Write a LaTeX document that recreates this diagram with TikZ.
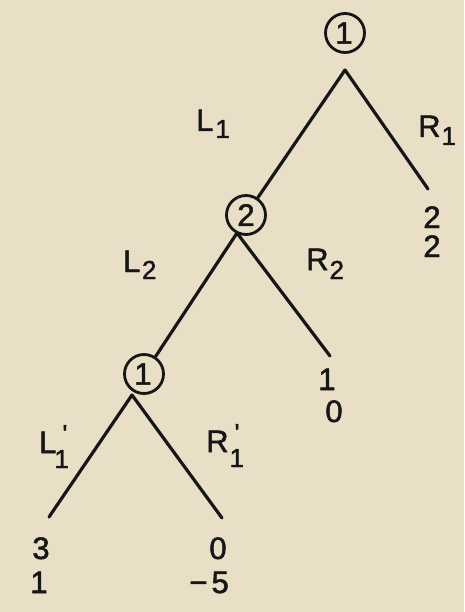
\documentclass[tikz,border=0pt]{standalone}
\usepackage{fontspec}
\setmainfont{Liberation Sans}[FakeBold=1.6]
\definecolor{bg}{RGB}{233,223,199}
\definecolor{ink}{RGB}{22,22,22}
\newcommand{\lsub}[2][7]{\raisebox{-#1pt}{\fontsize{26}{26}\selectfont #2}}
\newcommand{\lprime}[1][6]{\rlap{\kern#1pt\raisebox{10pt}{\fontsize{26}{26}\selectfont\textquotesingle}}}
\begin{document}
\begin{tikzpicture}[x=1pt,y=1pt,
  every node/.style={inner sep=0pt, font=\fontsize{31}{31}\selectfont, text=ink},
  branch/.style={draw=ink, line width=3.2pt, line cap=round, line join=round},
  decision/.style={circle, draw=ink, line width=2.8pt, minimum size=39pt}]
\fill[bg] (0,0) rectangle (464,-612);
\useasboundingbox (0,0) rectangle (464,-612);
% decision nodes
\node[decision] (n1) at (345,-33) {\kern-2pt1};
\node[decision] (n2) at (246,-215) {2};
\node[decision] (n3) at (144,-374) {\kern-2pt1};
% branch points and leaves
\coordinate (a1) at (345,-70);
\coordinate (a2) at (237,-233);
\coordinate (a3) at (132,-395);
\coordinate (t1) at (428,-189);
\coordinate (t2) at (330,-356);
\coordinate (t3) at (49,-517);
\coordinate (t4) at (222,-518);
\draw[branch] (n2) -- (a1) -- (t1);
\draw[branch] (n3) -- (a2) -- (t2);
\draw[branch] (t3) -- (a3) -- (t4);
% move labels
\node[anchor=base west] (lL1) at (196,-131) {L\kern2pt\lsub{1}};
\node[anchor=base west] (lR1) at (418,-137) {R\kern1pt\lsub[8]{1}};
\node[anchor=base west] (lL2) at (123,-272) {L\kern1.5pt\lsub{2}};
\node[anchor=base west] (lR2) at (306,-270) {R\kern1pt\lsub[9]{2}};
\node[anchor=base west] (lL3) at (39,-453) {L\lprime[6]\kern-2pt\lsub[15]{1}};
\node[anchor=base west] (lR3) at (206,-452) {R\lprime[6]\kern1pt\lsub[15]{1}};
% payoffs
\node[anchor=base] (p1a) at (432,-228) {2};
\node[anchor=base] (p1b) at (432,-257) {2};
\node[anchor=base] (p2a) at (327,-390) {1};
\node[anchor=base] (p2b) at (334,-422) {0};
\node[anchor=base] (p3a) at (41,-559) {3};
\node[anchor=base] (p3b) at (39,-593) {1};
\node[anchor=base] (p4a) at (218,-559) {0};
\node[anchor=base east] (p4b) at (229,-593) {−\kern4pt 5};
\end{tikzpicture}
\end{document}
